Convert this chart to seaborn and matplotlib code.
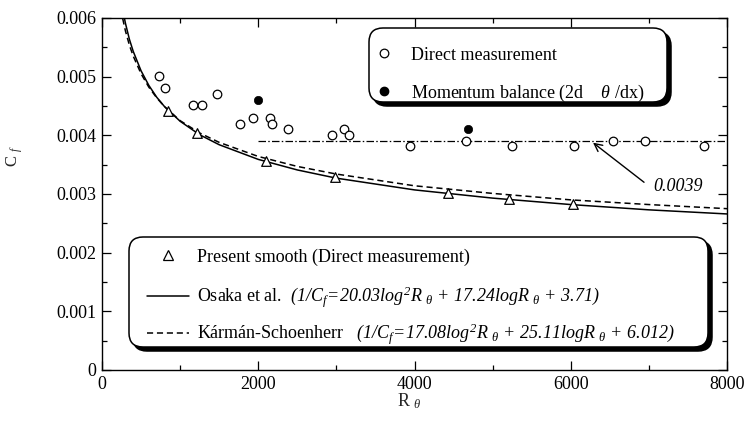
import numpy as np
import matplotlib
matplotlib.use("Agg")
import matplotlib.pyplot as plt
import seaborn as sns
from matplotlib.patches import FancyBboxPatch
from matplotlib.lines import Line2D
from matplotlib.legend import Legend

# ---------------- data ----------------
direct_R = [732, 809, 1166, 1281, 1477, 1762, 1936, 2154, 2171, 2375, 2941, 3094,
            3158, 3937, 4662, 5253, 6045, 6547, 6948, 7709]
direct_cf = [0.00501, 0.00481, 0.00451, 0.00451, 0.00470, 0.00420, 0.00430, 0.00430,
             0.00420, 0.00410, 0.00400, 0.00410, 0.00400, 0.00381, 0.00391, 0.00381,
             0.00381, 0.00391, 0.00391, 0.00381]

momentum_R = [2000, 4691]
momentum_cf = [0.00461, 0.00410]

smooth_R = [851, 1221, 2098, 2980, 4427, 5215, 6023]
smooth_cf = [0.00442, 0.00404, 0.00356, 0.00329, 0.00302, 0.00292, 0.00283]

curve_R = [200, 250, 300, 350, 400, 500, 600, 700, 800, 1000, 1250, 1500, 2000,
           2500, 3000, 4000, 5000, 6000, 7000, 8000]
osaka_cf = [0.00669, 0.00624, 0.00591, 0.00564, 0.00543, 0.00510, 0.00485, 0.00465,
            0.00449, 0.00424, 0.00401, 0.00384, 0.00359, 0.00341, 0.00327, 0.00307,
            0.00293, 0.00282, 0.00273, 0.00266]
karman_cf = [0.00648, 0.00608, 0.00578, 0.00554, 0.00535, 0.00505, 0.00482, 0.00464,
             0.00449, 0.00425, 0.00404, 0.00388, 0.00364, 0.00347, 0.00334, 0.00314,
             0.00301, 0.00290, 0.00282, 0.00275]

mean_R = [2000, 8000]
mean_cf = [0.0039, 0.0039]
mean_label = "0.0039"

x_ticks = [0, 2000, 4000, 6000, 8000]
x_ticklabels = ["0", "2000", "4000", "6000", "8000"]
y_ticks = [0, 0.001, 0.002, 0.003, 0.004, 0.005, 0.006]
y_ticklabels = ["0", "0.001", "0.002", "0.003", "0.004", "0.005", "0.006"]

lab_direct = "Direct measurement"
lab_momentum = r"Momentum balance (2d    $\theta$ /dx)"
lab_smooth = "Present smooth (Direct measurement)"
lab_osaka = (r"Osaka et al.  $(1/C_{f}\!=\!20.03log^{2}R_{\;\,\theta}"
             r"\,+\,17.24logR_{\;\,\theta}\,+\,3.71)$")
lab_karman = (r"Kármán-Schoenherr   $(1/C_{f}\!=\!17.08log^{2}R_{\;\,\theta}"
              r"\,+\,25.11logR_{\;\,\theta}\,+\,6.012)$")

# ---------------- style ----------------
sns.set_theme(style="ticks")
plt.rcParams.update({
    "font.family": ["Liberation Serif", "DejaVu Serif"],
    "mathtext.fontset": "custom",
    "mathtext.rm": "Liberation Serif:italic",
    "mathtext.it": "Liberation Serif:italic",
    "mathtext.bf": "Liberation Serif:bold",
    "axes.edgecolor": "black",
    "axes.linewidth": 1.0,
    "xtick.color": "black",
    "ytick.color": "black",
    "text.color": "black",
})

W, H = 749, 422
fig = plt.figure(figsize=(W / 100, H / 100), dpi=100)
ax_l, ax_b, ax_w, ax_h = 102, 370, 625, 352   # pixel layout
ax = fig.add_axes([ax_l / W, 1 - ax_b / H, ax_w / W, ax_h / H])

# curves
sns.lineplot(x=curve_R, y=osaka_cf, ax=ax, color="black", lw=1.1,
             estimator=None, sort=False, zorder=2)
sns.lineplot(x=curve_R, y=karman_cf, ax=ax, color="black", lw=1.1,
             linestyle=(0, (4, 2.5)), estimator=None, sort=False, zorder=2)
sns.lineplot(x=mean_R, y=mean_cf, ax=ax, color="black", lw=0.9,
             linestyle=(0, (6, 1.8, 1.2, 1.8)), estimator=None, sort=False, zorder=2)

# points
sns.scatterplot(x=direct_R, y=direct_cf, ax=ax, marker="o", s=38,
                facecolor="white", edgecolor="black", linewidth=0.9, zorder=3)
sns.scatterplot(x=momentum_R, y=momentum_cf, ax=ax, marker="o", s=36,
                color="black", edgecolor="black", linewidth=0.5, zorder=3)
sns.scatterplot(x=smooth_R, y=smooth_cf, ax=ax, marker="^", s=48,
                facecolor="white", edgecolor="black", linewidth=0.9, zorder=3)

# annotation arrow
ax.annotate("", xy=(6285, 0.003875), xytext=(6938, 0.00320),
            arrowprops=dict(arrowstyle="->", color="black", lw=1.0,
                            mutation_scale=14, shrinkA=0, shrinkB=0))
ax.text(7055, 0.00313, mean_label, fontsize=13, style="italic",
        ha="left", va="center")

# axes
ax.set_xlim(0, 8000)
ax.set_ylim(0, 0.006)
ax.set_xticks(x_ticks)
ax.set_xticklabels(x_ticklabels)
ax.set_yticks(y_ticks)
ax.set_yticklabels(y_ticklabels)
ax.set_xticks(np.arange(1000, 8000, 2000), minor=True)
ax.set_yticks(np.arange(0.0005, 0.006, 0.001), minor=True)
ax.tick_params(which="both", direction="in", top=True, right=True,
               width=0.9, labelsize=13)
ax.tick_params(which="major", length=6.5, pad=4)
ax.tick_params(which="minor", length=3.6)
for s in ax.spines.values():
    s.set_visible(True)
    s.set_linewidth(1.0)

ax.set_xlabel(r"R $_{\theta}$", fontsize=13)
ax.set_ylabel(r"C $_{f}$", fontsize=12)
ax.xaxis.set_label_coords((409 - ax_l) / ax_w, -(391 - ax_b) / ax_h)
ax.yaxis.set_label_coords(-(ax_l - 25) / ax_w, (ax_b - 156) / ax_h)


def to_ax(xp, yp):
    return (xp - ax_l) / ax_w, (ax_b - yp) / ax_h


# legend boxes with black drop shadow
def shadow_box(x0p, y0p, x1p, y1p, rad=14, off=4):
    aspect = ax_w / ax_h
    for dx, dy, fc, z in [(off, off, "black", 4.0), (0, 0, "white", 4.1)]:
        xa, ya_top = to_ax(x0p + dx, y0p + dy)
        xb, ya_bot = to_ax(x1p + dx, y1p + dy)
        p = FancyBboxPatch((xa, ya_bot), xb - xa, ya_top - ya_bot,
                           boxstyle=f"round,pad=0,rounding_size={rad / ax_w}",
                           mutation_aspect=aspect, transform=ax.transAxes,
                           facecolor=fc, edgecolor="black", lw=1.1,
                           zorder=z, clip_on=False)
        ax.add_patch(p)


def legend_row(handle, label, xp, yp, hlen, hpad):
    leg = Legend(ax, [handle], [label], loc="center left",
                 bbox_to_anchor=to_ax(xp, yp), bbox_transform=ax.transAxes,
                 frameon=False, fontsize=13,
                 handlelength=hlen, handletextpad=hpad,
                 borderpad=0, borderaxespad=0)
    leg.set_zorder(6)
    ax.add_artist(leg)


shadow_box(369, 28, 667, 102)
shadow_box(129, 237, 708, 347)

h_direct = Line2D([], [], ls="none", marker="o", ms=6.2, mfc="white", mec="black", mew=0.9)
h_mom = Line2D([], [], ls="none", marker="o", ms=6.0, mfc="black", mec="black")
legend_row(h_direct, lab_direct, 375, 55, 1.0, 1.0)
legend_row(h_mom, lab_momentum, 375, 93, 1.0, 1.0)

h_smooth = Line2D([], [], ls="none", marker="^", ms=6.5, mfc="white", mec="black", mew=0.9)
h_osaka = Line2D([], [], color="black", lw=1.1)
h_karman = Line2D([], [], color="black", lw=1.1, ls=(0, (4, 2.5)))
legend_row(h_smooth, lab_smooth, 147, 257, 2.3, 0.45)
legend_row(h_osaka, lab_osaka, 147, 297, 2.3, 0.45)
legend_row(h_karman, lab_karman, 147, 334, 2.3, 0.45)

fig.savefig("out.png", dpi=100)
